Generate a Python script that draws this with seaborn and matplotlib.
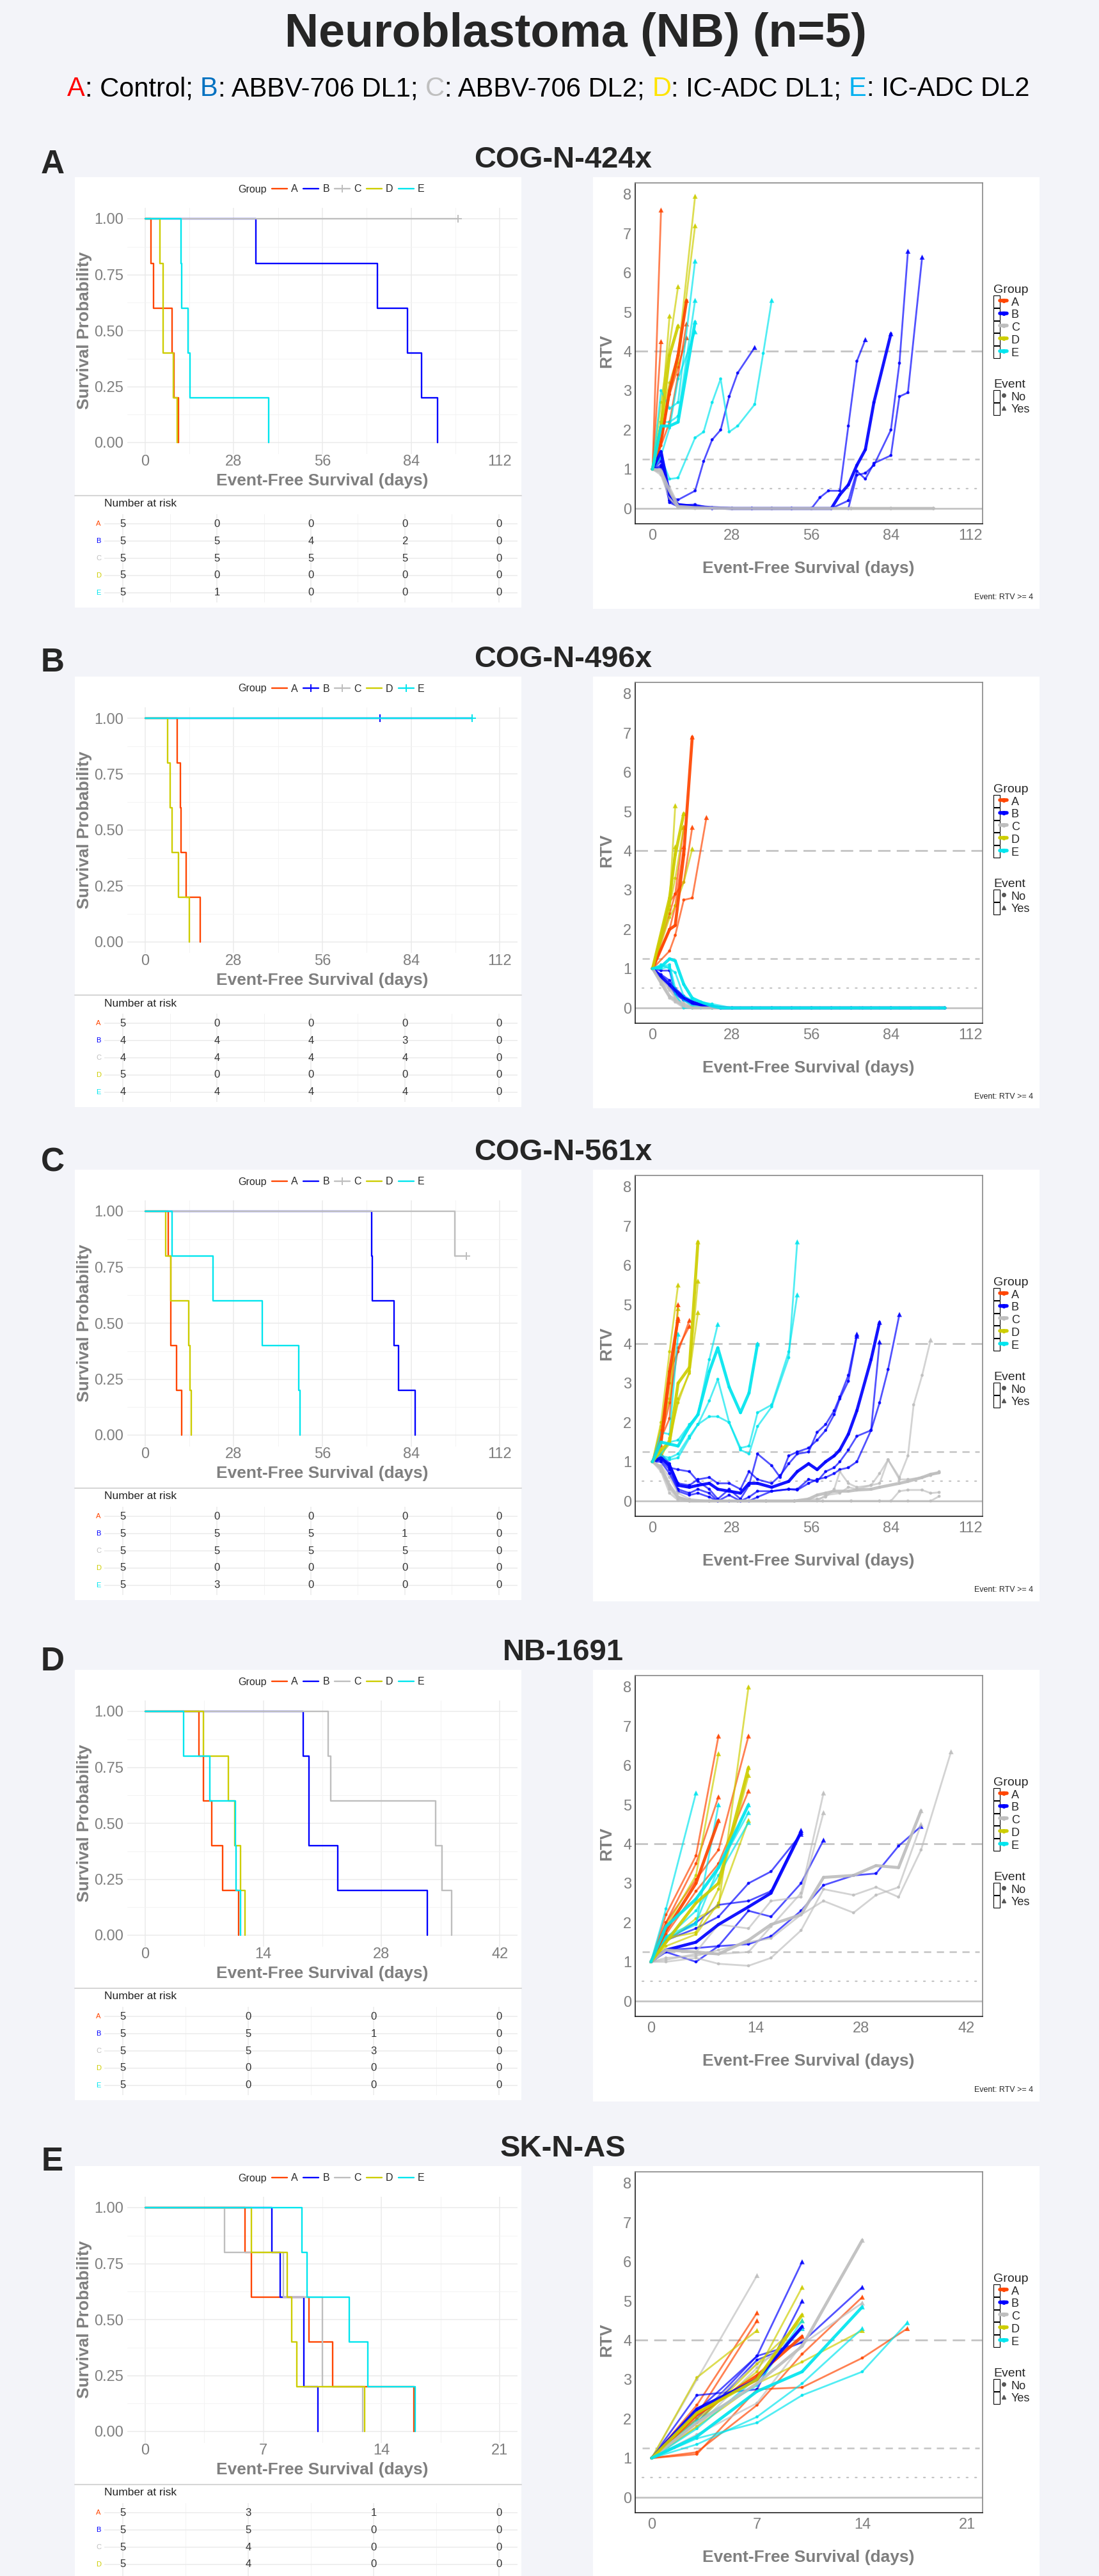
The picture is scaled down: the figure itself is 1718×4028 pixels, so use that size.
import matplotlib
matplotlib.use("Agg")
import matplotlib.pyplot as plt
import seaborn as sns
import pandas as pd
from matplotlib.lines import Line2D
from matplotlib.patches import Rectangle, Patch
from matplotlib.legend_handler import HandlerTuple
from matplotlib.offsetbox import TextArea, HPacker, AnchoredOffsetbox

# ------------------------------------------------------------------
# data
# ------------------------------------------------------------------
GROUPS = ["A", "B", "C", "D", "E"]
COLORS = {"A": "#FF4500", "B": "#0000FF", "C": "#BEBEBE", "D": "#CDCD00", "E": "#00E5EE"}

TITLE = "Neuroblastoma (NB) (n=5)"
SUBTITLE_PARTS = [("A", "#FF0000"), (": Control; ", "black"),
                  ("B", "#0070C0"), (": ABBV-706 DL1; ", "black"),
                  ("C", "#BFBFBF"), (": ABBV-706 DL2; ", "black"),
                  ("D", "#FFE400"), (": IC-ADC DL1; ", "black"),
                  ("E", "#00B0F0"), (": IC-ADC DL2", "black")]

PANEL_LETTERS = ["A", "B", "C", "D", "E"]
STRAINS = ["COG-N-424x", "COG-N-496x", "COG-N-561x", "NB-1691", "SK-N-AS"]
XTICKS = [[0, 28, 56, 84, 112], [0, 28, 56, 84, 112], [0, 28, 56, 84, 112],
          [0, 14, 28, 42], [0, 7, 14, 21]]

# Kaplan-Meier: event days and censored days per group
KM_424X_EVENTS = {"A": [1.9, 2.7, 8.5, 9.1, 10.6], "B": [35, 73.4, 82.8, 87.3, 92.3], "C": [],
                  "D": [4.7, 5.8, 5.8, 8.9, 10.2], "E": [11.3, 11.6, 13.5, 14.1, 39]}
KM_424X_CENSOR = {"A": [], "B": [], "C": [98.9, 98.9, 98.9, 98.9, 98.9], "D": [], "E": []}

KM_496X_EVENTS = {"A": [10.1, 11.1, 11.4, 12.9, 17.4], "B": [], "C": [],
                  "D": [7.2, 8.0, 8.6, 10.6, 13.9], "E": []}
KM_496X_CENSOR = {"A": [], "B": [74.1, 103.3, 103.3, 103.3], "C": [103.3, 103.3, 103.3, 103.3],
                  "D": [], "E": [103.3, 103.3, 103.3, 103.3]}

KM_561X_EVENTS = {"A": [7.4, 8.2, 8.2, 10.0, 11.6], "B": [71.6, 71.8, 78.6, 80.0, 85.3], "C": [97.9],
                  "D": [6.5, 8.2, 13.8, 14.2, 14.6], "E": [8.6, 21.4, 37.1, 48.5, 48.9]}
KM_561X_CENSOR = {"A": [], "B": [], "C": [101.5, 101.5, 101.5, 101.5], "D": [], "E": []}

KM_1691_EVENTS = {"A": [6.4, 6.9, 7.9, 9.2, 11.1], "B": [18.7, 19.4, 19.4, 22.8, 33.4],
                  "C": [21.7, 22.0, 34.4, 35.2, 36.3], "D": [6.9, 9.9, 10.6, 11.3, 11.8],
                  "E": [4.6, 7.7, 10.7, 10.8, 11.3]}
KM_1691_CENSOR = {"A": [], "B": [], "C": [], "D": [], "E": []}

KM_SKNAS_EVENTS = {"A": [5.9, 6.3, 9.7, 11.1, 15.9], "B": [7.5, 8.0, 9.4, 9.4, 10.25],
                   "C": [4.7, 8.2, 10.5, 10.5, 12.9], "D": [6.3, 8.4, 8.7, 9.0, 13.0],
                   "E": [9.3, 9.6, 12.1, 13.2, 16.0]}
KM_SKNAS_CENSOR = {"A": [], "B": [], "C": [], "D": [], "E": []}

# RTV trajectories (days, rtv); first entry of each group is the bold summary line
RTV_424X = {
    "A": [([0, 3, 6, 9, 12], [1, 1.7, 3.0, 3.9, 5.3]),
          ([0, 3], [1, 7.6]),
          ([0, 3], [1, 4.25]),
          ([0, 3, 6, 9, 12], [1, 1.6, 2.2, 3.4, 4.7]),
          ([0, 3, 6, 9, 12], [1, 1.75, 2.9, 3.6, 4.35])],
    "B": [([0, 3, 6, 9, 15, 21, 28, 35, 42, 49, 56, 63, 66, 69, 72, 75, 78, 84],
           [1, 1.45, 0.35, 0.1, 0.05, 0.02, 0, 0, 0, 0, 0, 0, 0.35, 0.6, 1.1, 1.5, 2.7, 4.45]),
          ([0, 3, 6, 9, 15, 18, 21, 24, 27, 30, 36], [1, 1.3, 0.3, 0.22, 0.45, 1.2, 1.75, 2.0, 2.85, 3.45, 4.1]),
          ([0, 3, 6, 9, 15, 21, 28, 35, 42, 49, 56, 59, 62, 66, 69, 72, 75],
           [1, 1.2, 0.2, 0.05, 0.02, 0, 0, 0, 0, 0, 0, 0.28, 0.45, 0.45, 2.1, 3.75, 4.3]),
          ([0, 3, 6, 9, 15, 21, 28, 35, 42, 49, 56, 63, 69, 72, 75, 78, 84, 87, 90],
           [1, 1.1, 0.15, 0.05, 0.03, 0, 0, 0, 0, 0, 0, 0, 0, 0.85, 0.9, 1.1, 2.0, 3.7, 6.55]),
          ([0, 3, 6, 9, 15, 21, 28, 35, 42, 49, 56, 63, 69, 72, 75, 78, 84, 87, 90, 95],
           [1, 1.05, 0.2, 0.08, 0.1, 0, 0, 0, 0, 0, 0, 0, 0.2, 0.95, 0.75, 1.15, 1.35, 2.85, 2.95, 6.4])],
    "C": [([0, 3, 6, 9, 15, 28, 42, 56, 70, 84, 99], [1, 0.95, 0.45, 0.05, 0.02, 0, 0, 0, 0, 0, 0]),
          ([0, 3, 6, 9, 15, 28, 42, 56, 70, 84, 99], [1, 0.9, 0.3, 0.03, 0, 0, 0, 0, 0, 0, 0]),
          ([0, 3, 6, 9, 15, 28, 42, 56, 70, 84, 99], [1, 1.0, 0.55, 0.1, 0.03, 0, 0, 0, 0, 0, 0]),
          ([0, 3, 6, 9, 15, 28, 42, 56, 70, 84, 99], [1, 0.85, 0.25, 0.02, 0, 0, 0, 0, 0, 0, 0]),
          ([0, 3, 6, 9, 15, 28, 42, 56, 70, 84, 99], [1, 0.95, 0.4, 0.06, 0.01, 0, 0, 0, 0, 0, 0])],
    "D": [([0, 3, 6, 9], [1, 2.1, 3.9, 4.65]),
          ([0, 3, 6, 9, 15], [1, 2.2, 3.2, 3.9, 7.95]),
          ([0, 3, 6, 9, 15], [1, 2.0, 3.0, 3.7, 7.2]),
          ([0, 3, 9], [1, 2.7, 5.65]),
          ([0, 3, 6], [1, 2.2, 4.9])],
    "E": [([0, 3, 6, 9, 15], [1, 2.1, 2.1, 2.2, 4.75]),
          ([0, 3, 6, 9, 15], [1, 3.0, 2.55, 2.7, 6.3]),
          ([0, 3, 6, 9, 15], [1, 2.2, 2.2, 2.35, 5.3]),
          ([0, 3, 6, 9, 15], [1, 1.35, 2.05, 3.3, 4.5]),
          ([0, 3, 6, 9, 15, 18, 21, 24, 27, 30, 36, 39, 42],
           [1, 1.3, 0.75, 0.78, 1.8, 1.95, 2.7, 3.3, 1.95, 2.1, 2.65, 3.95, 5.3])],
}

RTV_496X = {
    "A": [([0, 6, 8, 11, 14], [1, 2.0, 2.1, 3.9, 6.9]),
          ([0, 6, 8, 11, 14, 19], [1, 1.45, 1.85, 2.75, 2.8, 4.85]),
          ([0, 6, 8, 11, 14], [1, 2.7, 2.9, 3.2, 4.6]),
          ([0, 6, 8, 11], [1, 2.4, 2.9, 4.6]),
          ([0, 6, 8, 11], [1, 2.0, 2.6, 4.1])],
    "B": [([0, 3, 6, 8, 11, 14, 17, 21, 24, 35, 49, 63, 77, 91, 103],
           [1, 0.8, 0.6, 0.45, 0.25, 0.15, 0.08, 0.03, 0, 0, 0, 0, 0, 0, 0]),
          ([0, 3, 6, 8, 11, 14, 17, 21, 24, 35, 49, 63, 74], [1, 0.95, 0.95, 0.4, 0.2, 0.1, 0.05, 0.02, 0, 0, 0, 0, 0]),
          ([0, 3, 6, 8, 11, 14, 17, 21, 28, 42, 56, 70, 84, 103],
           [1, 0.75, 0.55, 0.35, 0.2, 0.1, 0.05, 0.02, 0, 0, 0, 0, 0, 0]),
          ([0, 3, 6, 8, 11, 14, 17, 21, 28, 42, 56, 70, 84, 103],
           [1, 0.85, 0.7, 0.5, 0.3, 0.15, 0.1, 0.05, 0, 0, 0, 0, 0, 0])],
    "C": [([0, 3, 6, 8, 11, 14, 21, 35, 56, 77, 103], [1, 0.65, 0.3, 0.2, 0.05, 0, 0, 0, 0, 0, 0]),
          ([0, 3, 6, 8, 11, 14, 21, 35, 56, 77, 103], [1, 0.7, 0.45, 0.25, 0.1, 0.02, 0, 0, 0, 0, 0]),
          ([0, 3, 6, 8, 11, 14, 21, 35, 56, 77, 103], [1, 0.6, 0.25, 0.15, 0, 0, 0, 0, 0, 0, 0]),
          ([0, 3, 6, 8, 11, 14, 21, 35, 56, 77, 103], [1, 0.75, 0.5, 0.3, 0.12, 0.05, 0, 0, 0, 0, 0])],
    "D": [([0, 6, 8, 11], [1, 2.8, 3.9, 4.95]),
          ([0, 6, 8], [1, 2.7, 5.15]),
          ([0, 6, 8, 11, 14], [1, 2.3, 2.6, 3.2, 4.05]),
          ([0, 6, 8], [1, 2.5, 4.1]),
          ([0, 6, 8, 11], [1, 2.6, 3.3, 4.6])],
    "E": [([0, 3, 6, 8, 11, 14, 17, 21, 24, 28, 31, 35, 38, 42, 45, 49, 52, 56, 59, 63, 66, 70, 73, 77,
            80, 84, 87, 91, 94, 98, 101, 103],
           [1, 1.05, 1.25, 1.2, 0.6, 0.25, 0.15, 0.05, 0, 0, 0, 0, 0, 0, 0, 0, 0, 0, 0, 0, 0, 0, 0, 0,
            0, 0, 0, 0, 0, 0, 0, 0]),
          ([0, 3, 6, 8, 11, 14, 17, 21, 28, 42, 56, 70, 84, 103],
           [1, 1.05, 1.1, 0.5, 0.2, 0.05, 0.02, 0, 0, 0, 0, 0, 0, 0]),
          ([0, 3, 6, 8, 11, 14, 17, 21, 28, 42, 56, 70, 84, 103],
           [1, 1.0, 1.05, 0.35, 0.0, 0.0, 0, 0, 0, 0, 0, 0, 0, 0]),
          ([0, 3, 6, 8, 11, 14, 17, 21, 28, 42, 56, 70, 84, 103],
           [1, 1.1, 1.0, 0.9, 0.3, 0.2, 0.15, 0.1, 0, 0, 0, 0, 0, 0])],
}

RTV_561X = {
    "A": [([0, 3, 6, 9], [1, 1.5, 3.3, 4.65]),
          ([0, 3, 6, 9], [1, 1.6, 2.1, 5.0]),
          ([0, 3, 6, 9], [1, 1.4, 3.0, 4.6]),
          ([0, 3, 6, 9, 13], [1, 1.8, 3.3, 3.8, 4.6]),
          ([0, 3, 6, 9, 13], [1, 1.6, 2.5, 3.9, 4.45])],
    "B": [([0, 3, 6, 9, 13, 16, 20, 23, 27, 31, 34, 37, 42, 48, 51, 55, 58, 61, 64, 66, 69, 72, 77, 80],
           [1, 1.1, 0.9, 0.4, 0.35, 0.4, 0.45, 0.3, 0.25, 0.2, 0.45, 0.45, 0.35, 0.5, 0.75, 0.95, 0.8, 1.0,
            1.15, 1.3, 1.7, 2.3, 3.6, 4.55]),
          ([0, 3, 6, 9, 13, 16, 20, 23, 27, 31, 34, 37, 42, 45, 48, 51, 55, 58, 61, 64, 66, 69, 72],
           [1, 1.2, 0.95, 0.45, 0.4, 0.55, 0.6, 0.45, 0.45, 0.3, 0.75, 0.55, 0.45, 0.65, 0.95, 1.2, 1.25,
            1.75, 1.95, 2.3, 2.65, 3.2, 4.25]),
          ([0, 3, 6, 9, 13, 16, 20, 23, 27, 31, 34, 37, 42, 45, 48, 51, 55, 58, 61, 64, 66, 69, 72],
           [1, 1.15, 0.85, 0.8, 0.75, 0.5, 0.3, 0.05, 0.3, 0.05, 0.4, 1.2, 0.9, 0.6, 1.15, 1.25, 1.35,
            1.55, 1.8, 2.2, 2.6, 3.05, 4.2]),
          ([0, 3, 6, 9, 13, 16, 20, 23, 27, 31, 34, 37, 42, 48, 51, 55, 58, 61, 64, 66, 69, 72, 77, 80],
           [1, 1.05, 0.8, 0.3, 0.2, 0.3, 0.2, 0.0, 0.15, 0.0, 0.1, 0.25, 0.25, 0.3, 0.3, 0.55, 0.5, 0.75,
            0.85, 1.0, 1.3, 1.65, 1.8, 4.05]),
          ([0, 3, 6, 9, 13, 16, 20, 23, 27, 31, 34, 37, 42, 48, 51, 55, 58, 61, 64, 66, 69, 72, 77, 80, 83, 87],
           [1, 1.0, 0.7, 0.25, 0.15, 0.2, 0.1, 0.0, 0.0, 0.0, 0.0, 0.1, 0.25, 0.3, 0.28, 0.45, 0.55, 0.6,
            0.7, 0.8, 0.85, 1.0, 1.8, 2.5, 3.35, 4.75])],
    "C": [([0, 3, 6, 9, 13, 20, 30, 40, 50, 55, 58, 61, 64, 69, 72, 77, 80, 87, 90, 95, 98, 101],
           [1, 0.85, 0.4, 0.1, 0.0, 0, 0, 0, 0, 0.05, 0.15, 0.2, 0.25, 0.25, 0.28, 0.3, 0.35, 0.45, 0.5,
            0.6, 0.68, 0.72]),
          ([0, 3, 6, 9, 13, 20, 30, 40, 50, 58, 61, 66, 69, 72, 77, 80, 83, 87, 90, 92, 95, 98],
           [1, 0.9, 0.6, 0.2, 0.05, 0, 0, 0, 0, 0, 0.15, 0.2, 0.35, 0.3, 0.4, 0.45, 1.05, 0.6, 1.15, 2.45,
            3.2, 4.1]),
          ([0, 3, 6, 9, 13, 20, 30, 40, 50, 58, 61, 64, 66, 69, 72, 77, 80, 83, 87, 90, 95, 98, 101],
           [1, 0.85, 0.35, 0.1, 0.02, 0, 0, 0, 0, 0.05, 0.1, 0.3, 0.75, 0.45, 0.35, 0.4, 0.7, 1.05, 0.55,
            0.55, 0.6, 0.65, 0.75]),
          ([0, 3, 6, 9, 13, 20, 30, 40, 50, 60, 70, 80, 84, 87, 90, 95, 98, 101],
           [1, 0.8, 0.3, 0.05, 0, 0, 0, 0, 0, 0, 0, 0, 0, 0.25, 0.28, 0.28, 0.2, 0.22]),
          ([0, 3, 6, 9, 13, 20, 30, 40, 50, 60, 70, 80, 90, 98, 101],
           [1, 0.75, 0.2, 0.02, 0, 0, 0, 0, 0, 0, 0, 0, 0, 0, 0.12])],
    "D": [([0, 3, 6, 9, 13, 16], [1, 1.3, 1.5, 3.0, 3.4, 6.6]),
          ([0, 3, 6, 9], [1, 2.0, 3.8, 5.5]),
          ([0, 3, 6, 9, 13, 16], [1, 1.1, 1.6, 2.5, 3.3, 5.6]),
          ([0, 3, 6, 9, 13, 16], [1, 1.2, 1.45, 2.6, 3.25, 4.8]),
          ([0, 3, 6, 9], [1, 1.9, 2.6, 4.9])],
    "E": [([0, 3, 6, 9, 13, 16, 20, 23, 27, 31, 34, 37],
           [1, 1.5, 1.45, 1.4, 1.9, 2.2, 3.3, 3.9, 2.9, 2.25, 2.75, 4.0]),
          ([0, 3, 6, 9], [1, 1.75, 1.7, 4.25]),
          ([0, 3, 6, 9, 13, 16, 20, 23], [1, 1.2, 1.5, 1.55, 1.95, 2.2, 3.6, 4.5]),
          ([0, 3, 6, 9, 13, 16, 20, 23, 27, 31, 34, 37, 42, 48, 51],
           [1, 1.1, 1.05, 1.1, 1.6, 1.95, 2.55, 3.1, 2.0, 1.3, 1.2, 1.9, 2.4, 3.65, 6.6]),
          ([0, 3, 6, 9, 13, 16, 20, 23, 27, 31, 34, 37, 42, 48, 51],
           [1, 1.15, 1.1, 1.2, 1.65, 1.95, 2.15, 2.15, 2.0, 1.35, 1.4, 2.25, 2.45, 3.8, 5.25])],
}

RTV_1691 = {
    "A": [([0, 2, 6, 9], [1, 1.8, 3.0, 4.6]),
          ([0, 2, 6, 9], [1, 2.2, 3.7, 6.75]),
          ([0, 2, 6, 9, 13], [1, 2.0, 3.1, 3.85, 6.75]),
          ([0, 2, 6, 9], [1, 2.0, 3.5, 5.2]),
          ([0, 2, 6, 9, 13], [1, 1.7, 2.8, 3.5, 5.35])],
    "B": [([0, 2, 6, 9, 13, 16, 20], [1, 1.3, 1.5, 1.95, 2.4, 2.75, 4.3]),
          ([0, 2, 6, 9, 13, 16, 20], [1, 1.55, 2.0, 2.45, 2.55, 2.8, 4.35]),
          ([0, 2, 6, 9, 13, 16, 20], [1, 1.55, 1.85, 2.15, 3.0, 3.3, 4.25]),
          ([0, 2, 6, 9, 13, 16, 20, 23], [1, 1.25, 1.0, 1.4, 2.3, 2.15, 3.0, 4.1]),
          ([0, 2, 6, 9, 13, 16, 20, 23, 27, 30, 33, 36],
           [1, 1.3, 1.35, 1.4, 1.45, 1.65, 2.3, 2.95, 3.2, 3.25, 3.95, 4.45])],
    "C": [([0, 2, 6, 9, 13, 16, 20, 23, 27, 30, 33, 36],
           [1, 1.3, 1.25, 1.2, 1.55, 1.95, 2.2, 3.15, 3.2, 3.45, 3.4, 4.85]),
          ([0, 2, 6, 9, 13, 16, 20, 23], [1, 1.05, 1.2, 1.2, 1.25, 1.9, 2.75, 5.3]),
          ([0, 2, 6, 9, 13, 16, 20, 23], [1, 1.3, 1.25, 1.95, 1.85, 2.55, 2.65, 4.8]),
          ([0, 2, 6, 9, 13, 16, 20, 23, 27, 30, 33, 36, 40],
           [1, 1.0, 1.1, 0.95, 0.9, 1.1, 1.8, 2.85, 2.7, 2.9, 2.65, 3.85, 6.35]),
          ([0, 2, 6, 9, 13, 16, 20, 23, 27, 30, 33, 36],
           [1, 1.1, 1.15, 1.3, 1.5, 1.6, 2.2, 2.55, 2.25, 2.7, 2.9, 4.5])],
    "D": [([0, 2, 6, 9, 13], [1, 1.5, 2.5, 3.0, 5.95]),
          ([0, 2, 6, 9, 13], [1, 1.5, 2.1, 2.4, 8.0]),
          ([0, 2, 6, 9], [1, 1.9, 3.2, 6.3]),
          ([0, 2, 6, 9, 13], [1, 1.6, 1.75, 2.85, 5.75]),
          ([0, 2, 6, 9, 13], [1, 1.4, 1.7, 2.5, 4.6])],
    "E": [([0, 2, 6, 9, 13], [1, 1.9, 2.6, 3.4, 5.0]),
          ([0, 2, 6], [1, 2.35, 5.3]),
          ([0, 2, 6, 9], [1, 1.6, 1.95, 5.0]),
          ([0, 2, 6, 9, 13], [1, 1.65, 2.0, 3.4, 4.8]),
          ([0, 2, 6, 9, 13], [1, 1.6, 2.3, 3.2, 4.55])],
}

RTV_SKNAS = {
    "A": [([0, 3, 7, 10], [1, 2.1, 3.1, 4.1]),
          ([0, 3, 7], [1, 2.35, 4.7]),
          ([0, 3, 7], [1, 2.1, 4.5]),
          ([0, 3, 7, 10, 14], [1, 1.15, 2.35, 3.65, 5.1]),
          ([0, 3, 7, 10, 14, 17], [1, 1.1, 2.75, 2.8, 3.55, 4.3])],
    "B": [([0, 3, 7, 10], [1, 2.25, 3.0, 4.35]),
          ([0, 3, 7, 10], [1, 2.2, 3.6, 6.0]),
          ([0, 3, 7, 10], [1, 2.6, 2.75, 5.0]),
          ([0, 3, 7, 10], [1, 2.0, 3.6, 3.95]),
          ([0, 3, 7, 10, 14], [1, 1.9, 3.5, 3.95, 5.35])],
    "C": [([0, 3, 7, 10, 14], [1, 1.9, 2.9, 3.85, 6.55]),
          ([0, 3, 7], [1, 3.0, 5.65]),
          ([0, 3, 7, 10, 14], [1, 1.6, 2.4, 3.9, 4.95]),
          ([0, 3, 7, 10], [1, 1.8, 3.3, 4.3]),
          ([0, 3, 7, 10], [1, 2.1, 3.4, 4.0])],
    "D": [([0, 3, 7, 10], [1, 2.15, 3.0, 4.65]),
          ([0, 3, 7], [1, 3.05, 4.25]),
          ([0, 3, 7, 10], [1, 2.0, 3.2, 5.35]),
          ([0, 3, 7, 10], [1, 1.9, 3.4, 4.5]),
          ([0, 3, 7, 10, 14], [1, 1.8, 2.9, 3.45, 4.25])],
    "E": [([0, 3, 7, 10, 14], [1, 1.55, 2.7, 3.2, 4.85]),
          ([0, 3, 7, 10], [1, 1.95, 2.85, 4.5]),
          ([0, 3, 7, 10], [1, 1.75, 3.05, 4.3]),
          ([0, 3, 7, 10, 14], [1, 1.35, 2.05, 2.9, 4.3]),
          ([0, 3, 7, 10, 14, 17], [1, 1.5, 1.9, 2.6, 3.2, 4.45])],
}

KM_EVENTS = [KM_424X_EVENTS, KM_496X_EVENTS, KM_561X_EVENTS, KM_1691_EVENTS, KM_SKNAS_EVENTS]
KM_CENSOR = [KM_424X_CENSOR, KM_496X_CENSOR, KM_561X_CENSOR, KM_1691_CENSOR, KM_SKNAS_CENSOR]
RTV_DATA = [RTV_424X, RTV_496X, RTV_561X, RTV_1691, RTV_SKNAS]

# ------------------------------------------------------------------
# layout (pixels of the 1718 x 4028 canvas)
# ------------------------------------------------------------------
W, H = 1718, 4028
BG = "#F3F4F9"
GREY_TXT = "#7F7F7F"
ROW_Y1 = [342, 1123, 1894, 2676, 3452]          # y of survival = 1.00
LETTER_BASE = [-71, -73, -62, -64, -58]
RTV_XLIM = [(-6.1, 116.3), (-6.1, 116.3), (-6.1, 116.3), (-2.1, 44.2), (-1.1, 22.0)]

sns.set_style("white")
plt.rcParams["font.family"] = ["Liberation Sans", "DejaVu Sans"]


def fx(x):
    return x / W


def fy(y):
    return 1 - y / H


def px_rect(l, t, r, b):
    return [l / W, 1 - b / H, (r - l) / W, (b - t) / H]


def km_curve(events, censors):
    n = len(events) + len(censors)
    s = 1.0
    xs, ys, cx, cy = [0.0], [1.0], [], []
    for t in sorted(set(events) | set(censors)):
        d = events.count(t)
        c = censors.count(t)
        if d:
            s *= (n - d) / n
            xs.append(t)
            ys.append(s)
        if c:
            cx.append(t)
            cy.append(s)
        n -= d + c
    last = max(events + censors)
    if xs[-1] != last:
        xs.append(last)
        ys.append(s)
    return xs, ys, cx, cy


def rtv_frame(by_group):
    rows = []
    for g in GROUPS:
        for i, (days, vals) in enumerate(by_group.get(g, [])):
            for j, (d, v) in enumerate(zip(days, vals)):
                last = j == len(days) - 1
                rows.append(dict(group=g, mouse=f"{g}{i}", thick=(i == 0), day=d, rtv=v,
                                 event="Yes" if (last and v >= 4) else "No"))
    return pd.DataFrame(rows)


fig = plt.figure(figsize=(W / 100, H / 100), dpi=100)
fig.patch.set_facecolor(BG)

bg = fig.add_axes([0, 0, 1, 1], zorder=-10)
bg.set_xlim(0, W)
bg.set_ylim(H, 0)
bg.axis("off")

# titles
fig.text(fx(900), fy(73), TITLE, ha="center", va="baseline", fontsize=53, weight="bold")
parts = [TextArea(t, textprops=dict(color=c, fontsize=30)) for t, c in SUBTITLE_PARTS]
pack = HPacker(children=parts, align="baseline", pad=0, sep=0)
fig.add_artist(AnchoredOffsetbox(loc="center", child=pack, pad=0, borderpad=0, frameon=False,
                                 bbox_to_anchor=(fx(857), fy(139)), bbox_transform=fig.transFigure))

for r in range(5):
    y1 = ROW_Y1[r]
    ticks = XTICKS[r]
    span = ticks[-1]
    minors = [(a + b) / 2 for a, b in zip(ticks[:-1], ticks[1:])]
    events, censors = KM_EVENTS[r], KM_CENSOR[r]

    # panel letter and strain name
    fig.text(fx(82), fy(y1 + LETTER_BASE[r]), PANEL_LETTERS[r], ha="center", va="baseline",
             fontsize=37, weight="bold")
    fig.text(fx(880), fy(y1 - 80), STRAINS[r], ha="center", va="baseline", fontsize=34, weight="bold")

    # white cards
    bg.add_patch(Rectangle((117, y1 - 65), 698, 673, facecolor="white", edgecolor="none"))
    bg.add_patch(Rectangle((927, y1 - 65), 698, 675, facecolor="white", edgecolor="none"))
    bg.plot([117, 815], [y1 + 433, y1 + 433], color="#D6D6D6", lw=1.5)

    # ---------------- Kaplan-Meier ----------------
    ax = fig.add_axes(px_rect(199, y1 - 17.5, 809, y1 + 367.5))
    ax.set_facecolor("white")
    ax.set_xlim(-0.05 * span, 1.05 * span)
    ax.set_ylim(-0.05, 1.05)
    ax.set_xticks(ticks)
    ax.set_xticks(minors, minor=True)
    ax.set_yticks([0, 0.25, 0.5, 0.75, 1.0])
    ax.set_yticks([0.125, 0.375, 0.625, 0.875], minor=True)
    ax.set_yticklabels(["0.00", "0.25", "0.50", "0.75", "1.00"])
    ax.grid(which="major", color="#EBEBEB", lw=1.1)
    ax.grid(which="minor", color="#F3F3F3", lw=0.7)
    for s in ax.spines.values():
        s.set_visible(False)
    ax.tick_params(axis="y", which="major", length=3, width=0.8, color="#333333", pad=1,
                   labelsize=17, labelcolor=GREY_TXT)
    ax.tick_params(axis="x", which="major", length=0, pad=1, labelsize=17, labelcolor=GREY_TXT)
    ax.tick_params(which="minor", length=0)

    handles = []
    for g in GROUPS:
        xs, ys, cx, cy = km_curve(events[g], censors[g])
        sns.lineplot(x=xs, y=ys, ax=ax, color=COLORS[g], lw=1.7, drawstyle="steps-post",
                     estimator=None, sort=False)
        if cx:
            ax.plot(cx, cy, ls="none", marker="+", color=COLORS[g], ms=9, mew=1.4)
        handles.append(Line2D([], [], color=COLORS[g], lw=1.7,
                              marker="+" if censors[g] else None, ms=8, mew=1.4))
    ax.set_xlabel("")
    ax.set_ylabel("")

    fig.text(fx(132), fy(y1 + 175), "Survival Probability", rotation=90, ha="center", va="center",
             fontsize=19, weight="bold", color=GREY_TXT)
    fig.text(fx(504), fy(y1 + 410), "Event-Free Survival (days)", ha="center", va="center",
             fontsize=19, weight="bold", color=GREY_TXT)

    fig.text(fx(417), fy(y1 - 46), "Group", ha="right", va="center", fontsize=11.5)
    fig.legend(handles, GROUPS, loc="center left", bbox_to_anchor=(fx(425), fy(y1 - 46)), ncol=5,
               frameon=False, fontsize=11.5, handlelength=1.5, handletextpad=0.4, columnspacing=0.5,
               borderpad=0, borderaxespad=0)

    # ---------------- number at risk ----------------
    rk = fig.add_axes(px_rect(163, y1 + 462, 809, y1 + 600))
    rk.set_facecolor("white")
    rk.set_xlim(-0.05 * span, 1.05 * span)
    rk.set_ylim(4.556, -0.556)
    rk.set_xticks(ticks)
    rk.set_xticks(minors, minor=True)
    rk.set_yticks(range(5))
    rk.grid(which="major", color="#EBEBEB", lw=1.1)
    rk.grid(which="minor", axis="x", color="#F3F3F3", lw=0.7)
    rk.tick_params(which="both", length=0, labelbottom=False, labelleft=False)
    for s in rk.spines.values():
        s.set_visible(False)
    for k, g in enumerate(GROUPS):
        if y1 + 477 + 27 * k > H - 8:      # row falls below the canvas edge
            continue
        times = events[g] + censors[g]
        for t in ticks:
            n_risk = sum(1 for v in times if v >= t)
            rk.text(t, k, str(n_risk), ha="center", va="center", fontsize=12, color="#333333")
        rk.text(-0.014, k, g, transform=rk.get_yaxis_transform(), ha="center", va="center",
                fontsize=8, color=COLORS[g])
    fig.text(fx(163), fy(y1 + 446), "Number at risk", ha="left", va="center", fontsize=12.5,
             color="#222222")

    # ---------------- RTV spaghetti ----------------
    rx = fig.add_axes(px_rect(993, y1 - 56, 1536, y1 + 477))
    rx.set_facecolor("white")
    rx.set_xlim(*RTV_XLIM[r])
    rx.set_ylim(-0.39, 8.29)
    rx.axhline(0, color="#C4C4C4", lw=2.0, zorder=1)
    rx.axhline(4, color="#C4C4C4", lw=2.0, dashes=(7, 3.5), zorder=1)
    rx.axhline(1.25, xmin=0.02, xmax=0.99, color="#C4C4C4", lw=1.8, dashes=(4.5, 3.5), zorder=1)
    rx.axhline(0.5, xmin=0.02, xmax=0.99, color="#C4C4C4", lw=1.6, dashes=(1, 5),
               dash_capstyle="round", zorder=1)

    df = rtv_frame(RTV_DATA[r])
    sns.lineplot(data=df[~df.thick], x="day", y="rtv", hue="group", hue_order=GROUPS, palette=COLORS,
                 units="mouse", estimator=None, sort=False, lw=2.0, alpha=0.68, legend=False, ax=rx)
    sns.lineplot(data=df[df.thick], x="day", y="rtv", hue="group", hue_order=GROUPS, palette=COLORS,
                 units="mouse", estimator=None, sort=False, lw=3.4, alpha=0.92, legend=False, ax=rx)
    sns.scatterplot(data=df[df.event == "No"], x="day", y="rtv", hue="group", hue_order=GROUPS,
                    palette=COLORS, marker="o", s=12, linewidth=0, alpha=0.85, legend=False, ax=rx)
    sns.scatterplot(data=df[df.event == "Yes"], x="day", y="rtv", hue="group", hue_order=GROUPS,
                    palette=COLORS, marker="^", s=32, linewidth=0, alpha=0.85, legend=False, ax=rx)
    rx.set_xlabel("")
    rx.set_ylabel("")
    rx.set_xticks(ticks)
    rx.set_yticks(range(9))
    rx.tick_params(axis="both", length=3, width=0.8, color="#333333", labelsize=17,
                   labelcolor=GREY_TXT)
    rx.tick_params(axis="y", pad=1)
    rx.tick_params(axis="x", pad=3)
    for side in ["left", "bottom"]:
        rx.spines[side].set_color("#222222")
        rx.spines[side].set_linewidth(1.2)
    for side in ["top", "right"]:
        rx.spines[side].set_color("#888888")
        rx.spines[side].set_linewidth(1.2)

    fig.text(fx(948), fy(y1 + 207), "RTV", rotation=90, ha="center", va="center", fontsize=19,
             weight="bold", color=GREY_TXT)
    fig.text(fx(1264), fy(y1 + 547), "Event-Free Survival (days)", ha="center", va="center",
             fontsize=19, weight="bold", color=GREY_TXT)
    if y1 + 600 < H:                       # caption of the last row lies below the canvas
        fig.text(fx(1615), fy(y1 + 592), "Event: RTV >= 4", ha="right", va="center", fontsize=9)

    box = dict(facecolor="white", edgecolor="black", lw=0.8)
    g_handles = [(Patch(**box), Line2D([], [], color=COLORS[g], lw=4, marker="o", ms=4))
                 for g in GROUPS]
    fig.legend(g_handles, GROUPS, title="Group", loc="upper left",
               bbox_to_anchor=(fx(1553), fy(y1 + 103)), frameon=False, fontsize=13,
               title_fontsize=14, alignment="left", handlelength=1.15, handleheight=1.2,
               labelspacing=0.02, handletextpad=0.4, borderpad=0, borderaxespad=0,
               handler_map={tuple: HandlerTuple(ndivide=None)})
    e_handles = [(Patch(**box), Line2D([], [], ls="none", color="#555555", marker=m, ms=ms))
                 for m, ms in [("o", 4), ("^", 5)]]
    fig.legend(e_handles, ["No", "Yes"], title="Event", loc="upper left",
               bbox_to_anchor=(fx(1553), fy(y1 + 251)), frameon=False, fontsize=13,
               title_fontsize=14, alignment="left", handlelength=1.15, handleheight=1.2,
               labelspacing=0.02, handletextpad=0.4, borderpad=0, borderaxespad=0,
               handler_map={tuple: HandlerTuple(ndivide=None)})

fig.savefig("out.png", dpi=100, facecolor=BG)
